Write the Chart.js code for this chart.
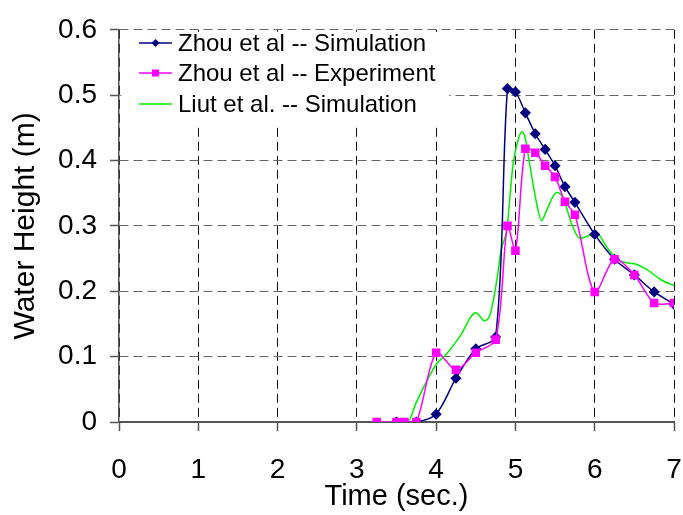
<!DOCTYPE html>
<html>
<head>
<meta charset="utf-8">
<script src="https://cdn.jsdelivr.net/npm/chart.js@4/dist/chart.umd.min.js"></script>
<style>
  html, body { margin: 0; padding: 0; background: #fff; }
  #wrap { width: 683px; height: 515px; }
</style>
</head>
<body>
<div id="wrap"><canvas id="myChart"></canvas></div>
<script>
const FONT = "'Liberation Sans', Arial, sans-serif"

// Zhou et al -- Simulation
const zhouSimTime = [3.5, 3.75, 4.0, 4.25, 4.5, 4.75, 4.9, 5.0, 5.125, 5.25, 5.375, 5.5, 5.625, 5.75, 6.0, 6.25, 6.5, 6.75, 7.0, 7.25]
const zhouSimHeight = [0, 0, 0.012, 0.067, 0.112, 0.13, 0.51, 0.505, 0.473, 0.441, 0.417, 0.392, 0.36, 0.336, 0.287, 0.249, 0.225, 0.199, 0.18, 0.155]

// Zhou et al -- Experiment
const zhouExpTime = [3.25, 3.5, 3.6, 3.75, 4.0, 4.25, 4.5, 4.75, 4.9, 5.0, 5.125, 5.25, 5.375, 5.5, 5.625, 5.75, 6.0, 6.25, 6.5, 6.75, 7.0]
const zhouExpHeight = [0, 0, 0, 0, 0.106, 0.08, 0.106, 0.126, 0.3, 0.262, 0.418, 0.412, 0.392, 0.375, 0.337, 0.317, 0.199, 0.249, 0.225, 0.182, 0.182]

// Liut et al. -- Simulation
const liutTime = [3.25, 3.64, 3.75, 4.0, 4.13, 4.3, 4.5, 4.61, 4.68, 4.76, 4.82, 4.89, 4.97, 5.03, 5.08, 5.12, 5.18, 5.27, 5.33, 5.39, 5.52, 5.6, 5.71, 5.81, 5.9, 6.03, 6.15, 6.28, 6.39, 6.53, 6.66, 6.83, 6.95, 7.08]
const liutHeight = [0, 0, 0.03, 0.088, 0.104, 0.131, 0.167, 0.155, 0.164, 0.213, 0.263, 0.294, 0.394, 0.43, 0.444, 0.436, 0.394, 0.333, 0.308, 0.323, 0.351, 0.343, 0.303, 0.281, 0.284, 0.288, 0.268, 0.249, 0.244, 0.241, 0.233, 0.218, 0.211, 0.207]

const xTicks = [0, 1, 2, 3, 4, 5, 6, 7]
const yTicks = [0, 0.1, 0.2, 0.3, 0.4, 0.5, 0.6]

const toPoints = (xs, ys) => xs.map((x, i) => ({ x: x, y: ys[i] }))

// legend drawn inside the plot, top left, on a white patch
const insideLegend = {
  id: 'insideLegend',
  afterDatasetsDraw(chart) {
    const c = chart.ctx
    const area = chart.chartArea
    c.save()
    c.fillStyle = '#fff'
    c.fillRect(area.left + 2, area.top + 2, 328, 95)
    const rows = [43, 73, 104]
    chart.data.datasets.forEach((ds, i) => {
      const y = rows[i]
      c.strokeStyle = ds.borderColor
      c.lineWidth = 1.5
      c.beginPath()
      c.moveTo(139, y)
      c.lineTo(172, y)
      c.stroke()
      c.fillStyle = ds.borderColor
      if (ds.pointStyle === 'rectRot') {
        c.beginPath()
        c.moveTo(155.5, y - 4)
        c.lineTo(159.5, y)
        c.lineTo(155.5, y + 4)
        c.lineTo(151.5, y)
        c.closePath()
        c.fill()
      } else if (ds.pointStyle === 'rect' && ds.pointRadius > 0) {
        c.fillRect(152, y - 3.5, 7, 7)
      }
      c.fillStyle = '#000'
      c.font = '24px ' + FONT
      c.textBaseline = 'middle'
      c.fillText(ds.label, 178, y + 1)
    })
    c.restore()
  }
}

const ctx = document.getElementById("myChart")

const chart = new Chart(ctx, {
  type: 'line',
  data: {
    datasets: [{
      label: 'Zhou et al -- Simulation',
      data: toPoints(zhouSimTime, zhouSimHeight),
      borderColor: '#000080',
      backgroundColor: '#000080',
      borderWidth: 1.5,
      pointStyle: 'rectRot',
      pointRadius: 4.5,
      tension: 0.3,
      order: 2
    }, {
      label: 'Zhou et al -- Experiment',
      data: toPoints(zhouExpTime, zhouExpHeight),
      borderColor: '#ff00ff',
      backgroundColor: '#ff00ff',
      borderWidth: 1.5,
      pointStyle: 'rect',
      pointRadius: 5,
      tension: 0.3,
      order: 1
    }, {
      label: 'Liut et al. -- Simulation',
      data: toPoints(liutTime, liutHeight),
      borderColor: '#00ee00',
      backgroundColor: '#00ee00',
      borderWidth: 1.5,
      pointStyle: 'rect',
      pointRadius: 0,
      cubicInterpolationMode: 'monotone',
      order: 3
    }]
  },
  options: {
    responsive: true,
    maintainAspectRatio: false,
    animation: false,
    layout: { padding: { left: 0, right: 9, top: 22, bottom: 0 } },
    plugins: {
      legend: { display: false },
      tooltip: { enabled: false }
    },
    scales: {
      x: {
        type: 'linear',
        min: 0,
        max: 7,
        afterBuildTicks: s => { s.ticks = xTicks.map(v => ({ value: v })) },
        afterFit: s => {
          s.height = 93
          s.paddingLeft = 0
          s.paddingRight = 0
        },
        ticks: {
          color: '#000',
          font: { family: FONT, size: 28 },
          padding: 22,
          maxRotation: 0
        },
        grid: {
          color: '#111',
          lineWidth: 1,
          tickLength: 9,
          tickColor: '#555',
          tickWidth: 1.5,
          tickBorderDash: []
        },
        border: { color: '#555', width: 2, dash: [9, 5] },
        title: {
          display: true,
          text: 'Time (sec.)',
          color: '#000',
          font: { family: FONT, size: 29 },
          padding: { top: 0, bottom: 1 }
        }
      },
      y: {
        min: 0,
        max: 0.6,
        afterBuildTicks: s => { s.ticks = yTicks.map(v => ({ value: v })) },
        afterFit: s => { s.width = 119 },
        ticks: {
          color: '#000',
          font: { family: FONT, size: 28 },
          padding: 13,
          callback: v => String(+v.toFixed(1))
        },
        grid: {
          color: '#666',
          lineWidth: 1,
          tickLength: 9,
          tickColor: '#555',
          tickWidth: 1.5,
          tickBorderDash: []
        },
        border: { color: '#555', width: 1.5, dash: [9, 5] },
        title: {
          display: true,
          text: 'Water Height (m)',
          color: '#000',
          font: { family: FONT, size: 30 },
          padding: { top: 8, bottom: 0 }
        }
      }
    }
  },
  plugins: [insideLegend]
});
</script>
</body>
</html>
